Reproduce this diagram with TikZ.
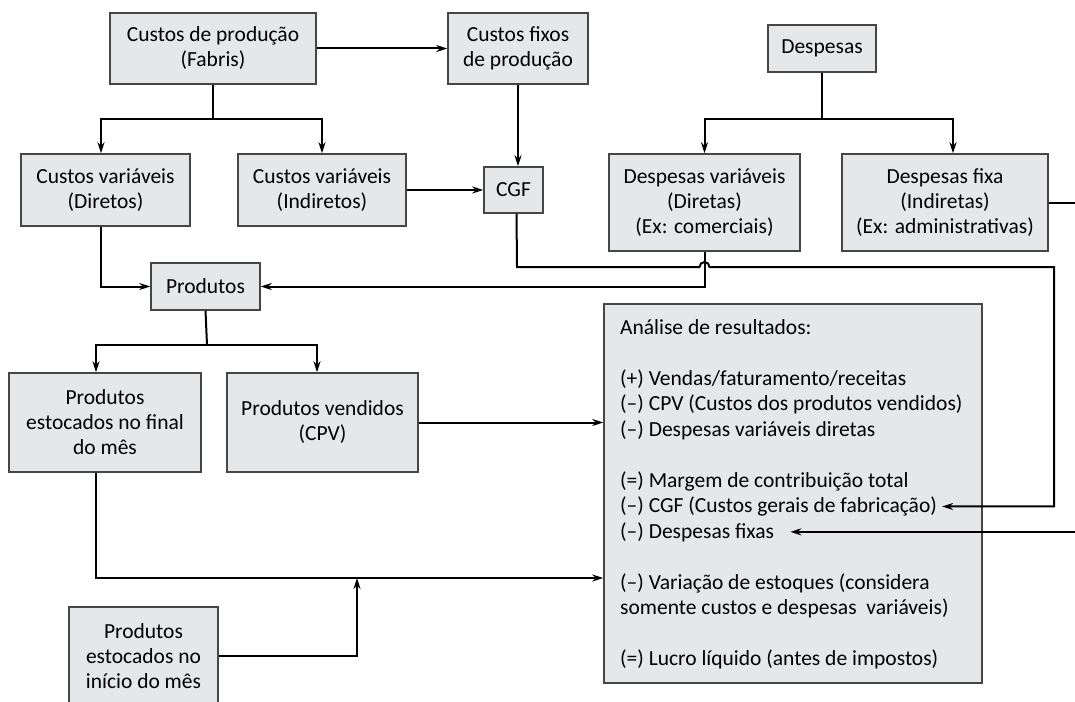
\documentclass[tikz,border=0pt]{standalone}
\usepackage{fontspec}
\setmainfont{Carlito}
\usetikzlibrary{arrows.meta}
\definecolor{boxfill}{RGB}{230,231,232}
\definecolor{boxline}{RGB}{70,70,70}
\begin{document}
\begin{tikzpicture}[x=1pt,y=-1pt,
  box/.style={draw=boxline, fill=boxfill, line width=1.5pt, align=center, inner sep=0pt, font=\fontsize{21.5}{25}\selectfont},
  link/.style={line width=2pt, -{Stealth[length=11pt,width=7pt]}},
  plain/.style={line width=2pt},
  txtline/.style={anchor=base west, inner sep=0pt, font=\fontsize{21.5}{25}\selectfont}]
\useasboundingbox (0,0) rectangle (1075,701);
\clip (0,0) rectangle (1075,701);

% boxes
\node[box, minimum width=206pt, minimum height=71pt] (cp) at (213,48.5) {Custos de produção\\(Fabris)};
\node[box, minimum width=140pt, minimum height=71pt] (cf) at (518,48.5) {Custos fixos\\de produção};
\node[box, minimum width=108pt, minimum height=47pt] (dp) at (822,48.5) {Despesas};
\node[box, minimum width=169pt, minimum height=72pt] (cvd) at (105.5,190) {Custos variáveis\\(Diretos)};
\node[box, minimum width=168pt, minimum height=72pt] (cvi) at (322,190) {Custos variáveis\\(Indiretos)};
\node[box, minimum width=59pt, minimum height=46pt] (cgf) at (513.5,190) {CGF};
\node[box, minimum width=191pt, minimum height=97pt] (dv) at (704.5,202.5) {Despesas variáveis\\(Diretas)\\(Ex: comerciais)};
\node[box, minimum width=206pt, minimum height=97pt] (df) at (945,202.5) {Despesas fixa\\(Indiretas)\\(Ex: administrativas)};
\node[box, minimum width=109pt, minimum height=47pt] (prod) at (205.5,286.5) {Produtos};
\node[box, minimum width=192pt, minimum height=99pt] (pef) at (105,422.5) {Produtos\\estocados no final\\do mês};
\node[box, minimum width=191pt, minimum height=99pt] (pv) at (322.5,422.5) {Produtos vendidos\\(CPV)};
\node[box, minimum width=149pt, minimum height=98pt] (pei) at (143.5,656) {Produtos\\estocados no\\início do mês};
\node[box, minimum width=378pt, minimum height=379pt] (an) at (793,493.5) {};

% analysis text
\node[txtline] (l0) at (620,334) {Análise de resultados:};
\node[txtline] (l1) at (620,385) {(+) Vendas/faturamento/receitas};
\node[txtline] (l2) at (620,410.5) {(–) CPV (Custos dos produtos vendidos)};
\node[txtline] (l3) at (620,436) {(–) Despesas variáveis diretas};
\node[txtline] (l4) at (620,487) {(=) Margem de contribuição total};
\node[txtline] (lcgf) at (620,512.5) {(–) CGF (Custos gerais de fabricação)};
\node[txtline] (ldf) at (620,538) {(–) Despesas fixas};
\node[txtline] (l7) at (620,589) {(–) Variação de estoques (considera};
\node[txtline] (l8) at (620,614.5) {somente custos e despesas\ \ variáveis)};
\node[txtline] (l9) at (620,665.5) {(=) Lucro líquido (antes de impostos)};

\coordinate (cpsplit) at (213,119);
\coordinate (dpsplit) at (822,119);
\coordinate (prsplit) at (207,345);
\coordinate (junc) at (357,578);

% connectors
\draw[link] (cp.east) -- (cf.west);
\draw[plain] (cp.south) -- (cpsplit);
\draw[link] (cpsplit) -| ([xshift=-4.5pt]cvd.north);
\draw[link] (cpsplit) -| (cvi.north);
\draw[link] (cf.south) -- (cf.south |- cgf.north);
\draw[link] (cvi.east) -- (cgf.west);
\draw[plain] (dp.south) -- (dpsplit);
\draw[link] (dpsplit) -| (dv.north);
\draw[link] (dpsplit) -| ([xshift=8pt]df.north);
\draw[link] ([xshift=-4.5pt]cvd.south) |- (prod.west);
\draw[link] (dv.south) |- (prod.east);
\draw[link] ([xshift=3pt]cgf.south) -- (517,267) -- (699.5,267)
  arc[start angle=180, end angle=0, radius=5pt] -- (1054,267) |- ([xshift=5pt]lcgf.east);
\draw[link] (df.east) -- (1090,202.5) |- ([xshift=16pt]ldf.east);
\draw[plain] (prod.south) -- (prsplit);
\draw[link] (prsplit) -| ([xshift=-9pt]pef.north);
\draw[link] (prsplit) -| ([xshift=-5.5pt]pv.north);
\draw[link] (pv.east) -- (pv.east -| an.west);
\draw[link] ([xshift=-9pt]pef.south) |- (an.west |- junc);
\draw[link] (pei.east) -| (junc);
\end{tikzpicture}
\end{document}
